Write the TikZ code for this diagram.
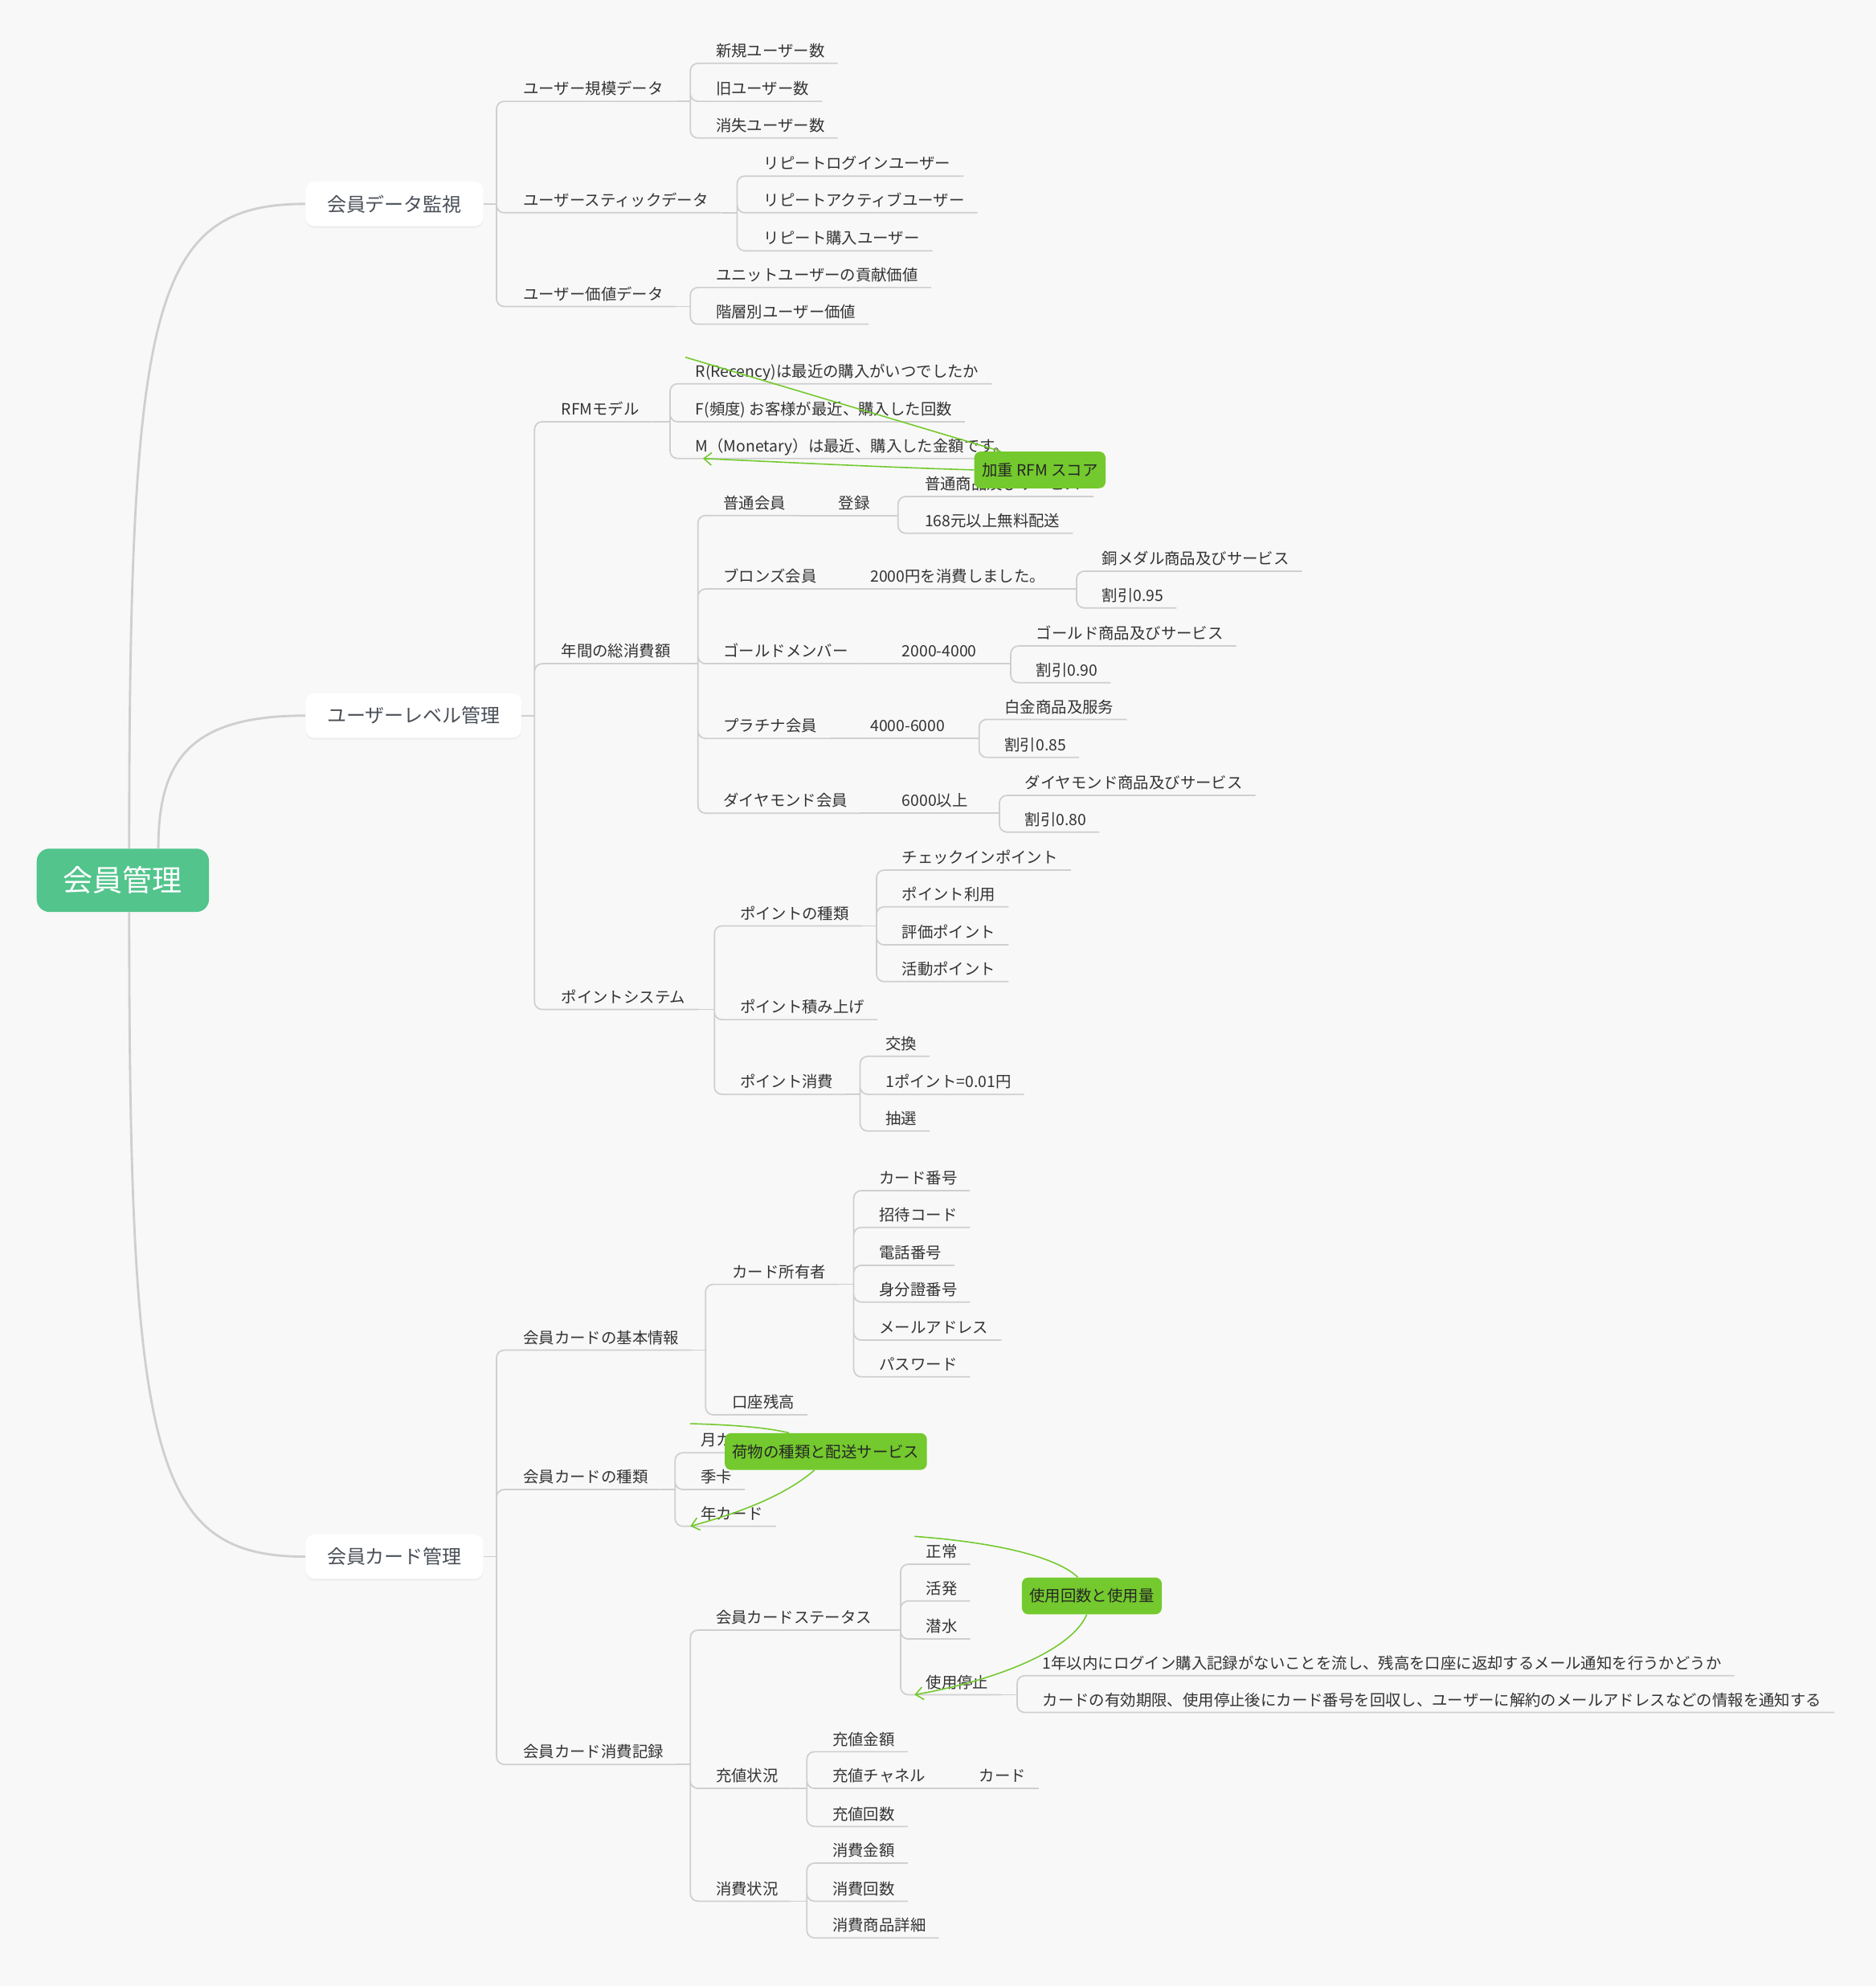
\documentclass[tikz,border=0pt]{standalone}
\usepackage{fontspec}
\setmainfont{Noto Sans CJK JP}
\usetikzlibrary{arrows.meta,shadows,backgrounds}
\definecolor{bgc}{HTML}{F8F8F8}
\definecolor{rootgreen}{HTML}{52C48C}
\definecolor{markgreen}{HTML}{73C92D}
\definecolor{linegray}{HTML}{CFCFCF}
\definecolor{labeltext}{HTML}{333333}
\definecolor{topictext}{HTML}{4A4F58}

\begin{document}
\begin{tikzpicture}[x=1pt, y=-1pt,
  root/.style={fill=rootgreen, rounded corners=10pt, minimum width=136pt,
               minimum height=50pt, text=white,
               font=\fontsize{23.5pt}{26pt}\selectfont},
  topic/.style={fill=white, rounded corners=7pt, minimum height=35pt,
                inner xsep=17pt, anchor=west, text=topictext,
                font=\fontsize{15.2pt}{18pt}\selectfont,
                drop shadow={shadow xshift=0pt, shadow yshift=-1.5pt, opacity=0.08}},
  lbl/.style={anchor=south west, inner xsep=10pt, inner ysep=2.6pt,
              text height=9pt, text depth=2.5pt, text=labeltext,
              font=\fontsize{12.3pt}{14pt}\selectfont},
  trunk/.style={draw=linegray, line width=1.8pt},
  branch/.style={draw=linegray, line width=1.1pt, rounded corners=6pt},
  callout/.style={fill=markgreen, rounded corners=5pt, minimum height=29pt,
                  inner xsep=6pt, text=black!85,
                  font=\fontsize{12.3pt}{14pt}\selectfont},
  rel/.style={draw=markgreen, line width=1pt},
  relarrow/.style={rel, -{Straight Barb[length=6pt, width=10pt]}}
]
  \useasboundingbox (0,0) rectangle (1481,1568);
  \begin{scope}[on background layer]
    \fill[bgc] (0,0) rectangle (1481,1568);
  \end{scope}

  % root and main topics
  \node[root] (root) at (97,695) {会員管理};
  \node[topic] (mon) at (241,161) {会員データ監視};
  \node[topic] (lvl) at (241,565) {ユーザーレベル管理};
  \node[topic] (card) at (241,1229) {会員カード管理};

  \draw[trunk] ([xshift=5pt]root.north) .. controls (102,240) and (120,161) .. (mon.west);
  \draw[trunk] ([xshift=28pt]root.north) .. controls (125,600) and (150,565) .. (lvl.west);
  \draw[trunk] ([xshift=5pt]root.south) .. controls (102,1150) and (120,1229) .. (card.west);

  % member data monitoring
  \coordinate (mB) at (392,161);
  \node[lbl] (m1) at (403,80) {ユーザー規模データ};
  \node[lbl] (m2) at (403,168) {ユーザースティックデータ};
  \node[lbl] (m3) at (403,242) {ユーザー価値データ};
  \draw[branch] (mon.east) -- (mB);
  \draw[branch] (mB) |- (m1.south east) (mB) |- (m2.south east) (mB) |- (m3.south east);

  \coordinate (m1B) at (545,80);
  \node[lbl] (m11) at (555,50) {新規ユーザー数};
  \node[lbl] (m12) at (555,80) {旧ユーザー数};
  \node[lbl] (m13) at (555,109) {消失ユーザー数};
  \draw[branch] (m1.south east) -- (m1B);
  \draw[branch] (m1B) |- (m11.south east) (m1B) |- (m12.south east) (m1B) |- (m13.south east);

  \coordinate (m2B) at (582,168);
  \node[lbl] (m21) at (593,139) {リピートログインユーザー};
  \node[lbl] (m22) at (593,168) {リピートアクティブユーザー};
  \node[lbl] (m23) at (593,198) {リピート購入ユーザー};
  \draw[branch] (m2.south east) -- (m2B);
  \draw[branch] (m2B) |- (m21.south east) (m2B) |- (m22.south east) (m2B) |- (m23.south east);

  \coordinate (m3B) at (545,242);
  \node[lbl] (m31) at (555,227) {ユニットユーザーの貢献価値};
  \node[lbl] (m32) at (555,256) {階層別ユーザー価値};
  \draw[branch] (m3.south east) -- (m3B);
  \draw[branch] (m3B) |- (m31.south east) (m3B) |- (m32.south east);

  % user level management
  \coordinate (lB) at (422,565);
  \node[lbl] (l1) at (433,333) {RFMモデル};
  \node[lbl] (l2) at (433,524) {年間の総消費額};
  \node[lbl] (l3) at (433,797) {ポイントシステム};
  \draw[branch] (lvl.east) -- (lB);
  \draw[branch] (lB) |- (l1.south east) (lB) |- (l2.south east) (lB) |- (l3.south east);

  \coordinate (l1B) at (529,333);
  \node[lbl] (r1) at (539,303) {R(Recency)は最近の購入がいつでしたか};
  \node[lbl] (r2) at (539,333) {F(頻度) お客様が最近、購入した回数};
  \node[lbl] (r3) at (539,362) {M（Monetary）は最近、購入した金額です。};
  \draw[branch] (l1.south east) -- (l1B);
  \draw[branch] (l1B) |- (r1.south east) (l1B) |- (r2.south east) (l1B) |- (r3.south east);

  \coordinate (l2B) at (551,524);
  \node[lbl] (g1) at (561,407) {普通会員};
  \node[lbl] (g2) at (561,465) {ブロンズ会員};
  \node[lbl] (g3) at (561,524) {ゴールドメンバー};
  \node[lbl] (g4) at (561,583) {プラチナ会員};
  \node[lbl] (g5) at (561,642) {ダイヤモンド会員};
  \draw[branch] (l2.south east) -- (l2B);
  \draw[branch] (l2B) |- (g1.south east) (l2B) |- (g2.south east) (l2B) |- (g3.south east)
                (l2B) |- (g4.south east) (l2B) |- (g5.south east);

  \node[lbl] (g1a) at (652,407) {登録};
  \node[lbl] (g2a) at (677,465) {2000円を消費しました。};
  \node[lbl] (g3a) at (702,524) {2000-4000};
  \node[lbl] (g4a) at (677,583) {4000-6000};
  \node[lbl] (g5a) at (702,642) {6000以上};
  \draw[branch] (g1.south east) -- (g1a.south east);
  \draw[branch] (g2.south east) -- (g2a.south east);
  \draw[branch] (g3.south east) -- (g3a.south east);
  \draw[branch] (g4.south east) -- (g4a.south east);
  \draw[branch] (g5.south east) -- (g5a.south east);

  \coordinate (g1B) at (709,407);
  \node[lbl] (g11) at (720,392) {普通商品及びサービス};
  \node[lbl] (g12) at (720,421) {168元以上無料配送};
  \draw[branch] (g1a.south east) -- (g1B);
  \draw[branch] (g1B) |- (g11.south east) (g1B) |- (g12.south east);

  \coordinate (g2B) at (850,465);
  \node[lbl] (g21) at (860,451) {銅メダル商品及びサービス};
  \node[lbl] (g22) at (860,480) {割引0.95};
  \draw[branch] (g2a.south east) -- (g2B);
  \draw[branch] (g2B) |- (g21.south east) (g2B) |- (g22.south east);

  \coordinate (g3B) at (798,524);
  \node[lbl] (g31) at (808,510) {ゴールド商品及びサービス};
  \node[lbl] (g32) at (808,539) {割引0.90};
  \draw[branch] (g3a.south east) -- (g3B);
  \draw[branch] (g3B) |- (g31.south east) (g3B) |- (g32.south east);

  \coordinate (g4B) at (773,583);
  \node[lbl] (g41) at (783,568) {白金商品及服务};
  \node[lbl] (g42) at (783,598) {割引0.85};
  \draw[branch] (g4a.south east) -- (g4B);
  \draw[branch] (g4B) |- (g41.south east) (g4B) |- (g42.south east);

  \coordinate (g5B) at (789,642);
  \node[lbl] (g51) at (799,628) {ダイヤモンド商品及びサービス};
  \node[lbl] (g52) at (799,657) {割引0.80};
  \draw[branch] (g5a.south east) -- (g5B);
  \draw[branch] (g5B) |- (g51.south east) (g5B) |- (g52.south east);

  \coordinate (l3B) at (564,797);
  \node[lbl] (p1) at (574,731) {ポイントの種類};
  \node[lbl] (p2) at (574,805) {ポイント積み上げ};
  \node[lbl] (p3) at (574,864) {ポイント消費};
  \draw[branch] (l3.south east) -- (l3B);
  \draw[branch] (l3B) |- (p1.south east) (l3B) |- (p2.south east) (l3B) |- (p3.south east);

  \coordinate (p1B) at (692,731);
  \node[lbl] (p11) at (702,687) {チェックインポイント};
  \node[lbl] (p12) at (702,716) {ポイント利用};
  \node[lbl] (p13) at (702,746) {評価ポイント};
  \node[lbl] (p14) at (702,775) {活動ポイント};
  \draw[branch] (p1.south east) -- (p1B);
  \draw[branch] (p1B) |- (p11.south east) (p1B) |- (p12.south east)
                (p1B) |- (p13.south east) (p1B) |- (p14.south east);

  \coordinate (p3B) at (679,864);
  \node[lbl] (p31) at (689,834) {交換};
  \node[lbl] (p32) at (689,864) {1ポイント=0.01円};
  \node[lbl] (p33) at (689,893) {抽選};
  \draw[branch] (p3.south east) -- (p3B);
  \draw[branch] (p3B) |- (p31.south east) (p3B) |- (p32.south east) (p3B) |- (p33.south east);

  % member card management
  \coordinate (cB) at (392,1229);
  \node[lbl] (c1) at (403,1066) {会員カードの基本情報};
  \node[lbl] (c2) at (403,1176) {会員カードの種類};
  \node[lbl] (c3) at (403,1393) {会員カード消費記録};
  \draw[branch] (card.east) -- (cB);
  \draw[branch] (cB) |- (c1.south east) (cB) |- (c2.south east) (cB) |- (c3.south east);

  \coordinate (c1B) at (557,1066);
  \node[lbl] (c11) at (568,1014) {カード所有者};
  \node[lbl] (c12) at (568,1117) {口座残高};
  \draw[branch] (c1.south east) -- (c1B);
  \draw[branch] (c1B) |- (c11.south east) (c1B) |- (c12.south east);

  \coordinate (c11B) at (674,1014);
  \node[lbl] (o1) at (684,940) {カード番号};
  \node[lbl] (o2) at (684,969) {招待コード};
  \node[lbl] (o3) at (684,999) {電話番号};
  \node[lbl] (o4) at (684,1028) {身分證番号};
  \node[lbl] (o5) at (684,1058) {メールアドレス};
  \node[lbl] (o6) at (684,1087) {パスワード};
  \draw[branch] (c11.south east) -- (c11B);
  \draw[branch] (c11B) |- (o1.south east) (c11B) |- (o2.south east) (c11B) |- (o3.south east)
                (c11B) |- (o4.south east) (c11B) |- (o5.south east) (c11B) |- (o6.south east);

  \coordinate (c2B) at (533,1176);
  \node[lbl] (t1) at (543,1147) {月カード};
  \node[lbl] (t2) at (543,1176) {季卡};
  \node[lbl] (t3) at (543,1205) {年カード};
  \draw[branch] (c2.south east) -- (c2B);
  \draw[branch] (c2B) |- (t1.south east) (c2B) |- (t2.south east) (c2B) |- (t3.south east);

  \coordinate (c3B) at (545,1393);
  \node[lbl] (c31) at (555,1287) {会員カードステータス};
  \node[lbl] (c32) at (555,1412) {充値状況};
  \node[lbl] (c33) at (555,1501) {消費状況};
  \draw[branch] (c3.south east) -- (c3B);
  \draw[branch] (c3B) |- (c31.south east) (c3B) |- (c32.south east) (c3B) |- (c33.south east);

  \coordinate (c31B) at (711,1287);
  \node[lbl] (s1) at (721,1235) {正常};
  \node[lbl] (s2) at (721,1264) {活発};
  \node[lbl] (s3) at (721,1294) {潜水};
  \node[lbl] (s4) at (721,1338) {使用停止};
  \draw[branch] (c31.south east) -- (c31B);
  \draw[branch] (c31B) |- (s1.south east) (c31B) |- (s2.south east)
                (c31B) |- (s3.south east) (c31B) |- (s4.south east);

  \coordinate (s4B) at (803,1338);
  \node[lbl] (s41) at (813,1323) {1年以内にログイン購入記録がないことを流し、残高を口座に返却するメール通知を行うかどうか};
  \node[lbl] (s42) at (813,1352) {カードの有効期限、使用停止後にカード番号を回収し、ユーザーに解約のメールアドレスなどの情報を通知する};
  \draw[branch] (s4.south east) -- (s4B);
  \draw[branch] (s4B) |- (s41.south east) (s4B) |- (s42.south east);

  \coordinate (c32B) at (637,1412);
  \node[lbl] (v1) at (647,1383) {充値金額};
  \node[lbl] (v2) at (647,1412) {充値チャネル};
  \node[lbl] (v3) at (647,1442) {充値回数};
  \node[lbl] (v2a) at (763,1412) {カード};
  \draw[branch] (c32.south east) -- (c32B);
  \draw[branch] (c32B) |- (v1.south east) (c32B) |- (v2.south east) (c32B) |- (v3.south east);
  \draw[branch] (v2.south east) -- (v2a.south east);

  \coordinate (c33B) at (637,1501);
  \node[lbl] (u1) at (647,1471) {消費金額};
  \node[lbl] (u2) at (647,1501) {消費回数};
  \node[lbl] (u3) at (647,1530) {消費商品詳細};
  \draw[branch] (c33.south east) -- (c33B);
  \draw[branch] (c33B) |- (u1.south east) (c33B) |- (u2.south east) (c33B) |- (u3.south east);

  % relation labels
  \node[callout] (rfmscore) at (821,371) {加重 RFM スコア};
  \node[callout] (pkgsvc) at (652,1146) {荷物の種類と配送サービス};
  \node[callout] (usage) at (862,1260) {使用回数と使用量};

  \coordinate (rfmS) at (541,282);
  \coordinate (rfmE) at (555,362);
  \draw[rel] (rfmS) -- ([xshift=-31pt]rfmscore.north);
  \draw[relarrow] (rfmscore.west) .. controls (700,369) and (620,365) .. (rfmE);

  \coordinate (pkgS) at (545,1124);
  \coordinate (pkgE) at (545,1205);
  \draw[rel] (pkgS) .. controls (580,1125) and (605,1127) .. ([xshift=-29pt]pkgsvc.north);
  \draw[relarrow] ([xshift=-9pt]pkgsvc.south) .. controls (615,1185) and (570,1198) .. (pkgE);

  \coordinate (useS) at (722,1213);
  \coordinate (useE) at (722,1338);
  \draw[rel] (useS) .. controls (790,1218) and (835,1230) .. ([xshift=-11pt]usage.north);
  \draw[relarrow] ([xshift=-4pt]usage.south) .. controls (845,1305) and (780,1328) .. (useE);
\end{tikzpicture}
\end{document}
